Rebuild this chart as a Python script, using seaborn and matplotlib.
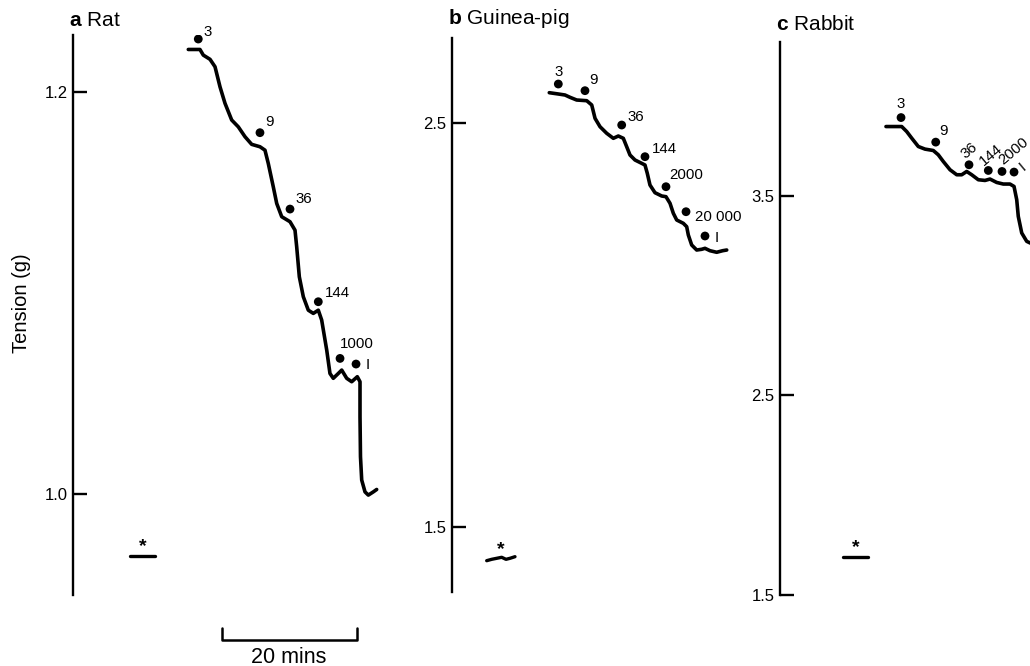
import numpy as np
import pandas as pd
import seaborn as sns
import matplotlib.pyplot as plt

# traces: time (min), tension (g)
rat_t = [17.08, 18.81, 19.30, 20.30, 21.04, 21.78, 22.52, 23.51, 24.49, 25.48, 26.47, 27.70, 28.44, 28.93,
         29.67, 30.18, 30.92, 32.15, 32.89, 33.14, 33.53, 34.12, 34.86, 35.60, 36.34, 36.84, 37.59, 38.07,
         38.56, 39.30, 39.81, 40.55, 41.29, 42.12, 42.52, 42.52, 42.59, 42.77, 43.26, 43.75, 44.49, 44.99]
rat_g = [1.2212, 1.2212, 1.2184, 1.2163, 1.2126, 1.2026, 1.1944, 1.1861, 1.1827, 1.1778, 1.1740, 1.1728,
         1.1711, 1.1645, 1.1529, 1.1446, 1.1380, 1.1355, 1.1313, 1.1230, 1.1081, 1.0982, 1.0915, 1.0899,
         1.0915, 1.0866, 1.0716, 1.0600, 1.0576, 1.0600, 1.0617, 1.0576, 1.0559, 1.0584, 1.0559, 1.0385,
         1.0186, 1.0070, 1.0011, 0.9995, 1.0011, 1.0023]

gp_t = [14.41, 15.75, 16.74, 17.48, 18.47, 19.96, 20.70, 21.19, 21.93, 22.92, 23.90, 24.64, 25.38, 25.88,
        26.37, 27.11, 28.10, 28.59, 28.93, 29.33, 30.07, 31.07, 31.70, 32.30, 32.79, 33.29, 34.27, 34.77,
        35.01, 35.51, 36.25, 36.99, 37.48, 38.22, 39.21, 40.10, 40.70]
gp_g = [2.5750, 2.5718, 2.5693, 2.5636, 2.5569, 2.5552, 2.5446, 2.5116, 2.4908, 2.4745, 2.4621, 2.4678,
        2.4621, 2.4413, 2.4208, 2.4084, 2.4002, 2.3960, 2.3755, 2.3465, 2.3275, 2.3193, 2.3176, 2.3012,
        2.2765, 2.2599, 2.2517, 2.2433, 2.2228, 2.1980, 2.1856, 2.1874, 2.1898, 2.1839, 2.1800, 2.1839,
        2.1856]

rb_t = [15.70, 18.03, 18.77, 19.51, 20.49, 21.48, 22.71, 23.45, 24.19, 25.19, 26.18, 26.92, 27.66, 28.40,
        29.38, 30.37, 31.11, 32.10, 33.08, 34.07, 34.67, 35.07, 35.30, 35.81, 36.55, 37.04, 38.50]
rb_g = [3.8465, 3.8465, 3.8215, 3.7885, 3.7465, 3.7335, 3.7265, 3.7050, 3.6715, 3.6300, 3.6050, 3.6050,
        3.6215, 3.6050, 3.5800, 3.5765, 3.5835, 3.5665, 3.5585, 3.5585, 3.5465, 3.4800, 3.3965, 3.3135,
        3.2715, 3.2635, 3.2500]

# points where each concentration was added
rat_dot_t = [18.56, 27.70, 32.15, 36.34, 39.56, 41.93]
rat_dot_g = [1.2264, 1.1798, 1.1418, 1.0957, 1.0675, 1.0647]
rat_labels = ['3', '9', '36', '144', '1000', 'I']

gp_dot_t = [15.75, 19.70, 25.14, 28.59, 31.70, 34.67, 37.48]
gp_dot_g = [2.5965, 2.5800, 2.4950, 2.4166, 2.3423, 2.2804, 2.2203]
gp_labels = ['3', '9', '36', '144', '2000', '20 000', 'I']

rb_dot_t = [17.93, 23.07, 28.00, 30.86, 32.89, 34.67]
rb_dot_g = [3.8915, 3.7685, 3.6550, 3.6265, 3.6215, 3.6185]
rb_labels = ['3', '9', '36', '144', '2000', 'I']

# baselines marked with *
rat_base_t = [8.44, 12.15]
rat_base_g = [0.9692, 0.9692]
gp_base_t = [5.14, 5.88, 6.62, 7.36, 8.00, 8.59, 9.33]
gp_base_g = [1.4166, 1.4200, 1.4225, 1.4250, 1.4200, 1.4225, 1.4265]
rb_base_t = [9.33, 13.04]
rb_base_g = [1.69, 1.69]

rat_ticks = [1.0, 1.2]
gp_ticks = [1.5, 2.5]
rb_ticks = [1.5, 2.5, 3.5]

scale_start = 22.0
scale_mins = 20

# label placement (pixel offsets, alignment, rotation)
rat_style = [(5, 7, 'left', 0), (5, 11, 'left', 0), (5, 10, 'left', 0), (7, 9, 'left', 0),
             (0, 14, 'left', 0), (10, -1, 'left', 0)]
gp_style = [(0, 12, 'center', 0), (4, 11, 'left', 0), (6, 8, 'left', 0), (7, 8, 'left', 0),
            (3, 12, 'left', 0), (9, -5, 'left', 0), (10, -2, 'left', 0)]
rb_style = [(0, 14, 'center', 0), (8, 11, 'center', 0), (0, 14, 'center', 40), (3, 16, 'center', 40),
            (12, 20, 'center', 40), (9, 5, 'center', 40)]

sns.set_theme(style='white')
plt.rcParams['font.family'] = ['Liberation Sans', 'DejaVu Sans']
plt.rcParams['mathtext.fontset'] = 'custom'
plt.rcParams['mathtext.rm'] = 'Liberation Sans'
plt.rcParams['mathtext.bf'] = 'Liberation Sans:bold'
plt.rcParams['text.color'] = 'black'
plt.rcParams['axes.labelcolor'] = 'black'

W, H = 1030, 666
PX_PER_MIN = 6.75
fig = plt.figure(figsize=(W / 100, H / 100), dpi=100)


def make_axes(left, right, top, bottom, ylim):
    ax = fig.add_axes([left / W, 1 - bottom / H, (right - left) / W, (bottom - top) / H])
    ax.set_xlim(0, (right - left) / PX_PER_MIN)
    ax.set_ylim(*ylim)
    return ax


def draw_panel(ax, t, g, dot_t, dot_g, labels, style, base_t, base_g, ticks, title, title_pad):
    trace = pd.DataFrame({'time': t, 'tension': g})
    sns.lineplot(data=trace, x='time', y='tension', ax=ax, sort=False, estimator=None,
                 color='black', linewidth=2.6, solid_capstyle='round', solid_joinstyle='round')
    base = pd.DataFrame({'time': base_t, 'tension': base_g})
    sns.lineplot(data=base, x='time', y='tension', ax=ax, sort=False, estimator=None,
                 color='black', linewidth=2.4, solid_capstyle='round')
    dots = pd.DataFrame({'time': dot_t, 'tension': dot_g})
    sns.scatterplot(data=dots, x='time', y='tension', ax=ax, color='black', s=40,
                    edgecolor='none', zorder=3)
    for x, y, lab, (dx, dy, ha, rot) in zip(dot_t, dot_g, labels, style):
        ax.annotate(lab, (x, y), xytext=(dx, dy), textcoords='offset pixels',
                    ha=ha, va='center', rotation=rot, fontsize=10.8, color='black',
                    annotation_clip=False)
    ax.annotate('*', (np.mean(base_t), np.mean(base_g)), xytext=(0, 9), textcoords='offset pixels',
                ha='center', va='center', fontsize=14, fontweight='bold', color='black')

    for s in ['top', 'right', 'bottom']:
        ax.spines[s].set_visible(False)
    ax.spines['left'].set_color('black')
    ax.spines['left'].set_linewidth(1.7)
    ax.set_xticks([])
    ax.set_yticks(ticks)
    ax.set_yticklabels([f'{v:.1f}' for v in ticks])
    ax.tick_params(axis='y', direction='in', length=10, width=1.7, color='black',
                   labelsize=12, pad=4, left=True, labelcolor='black')
    ax.set_xlabel('')
    ax.set_ylabel('')
    ax.annotate(title, (0, 1), xycoords='axes fraction', xytext=(-4, title_pad),
                textcoords='offset pixels', ha='left', va='center', fontsize=15)


ax_a = make_axes(73, 420, 35, 595, (0.9498, 1.2284))
ax_b = make_axes(452, 745, 38, 592, (1.3391, 2.7104))
ax_c = make_axes(780, 1030, 42, 595, (1.5, 4.27))

draw_panel(ax_a, rat_t, rat_g, rat_dot_t, rat_dot_g, rat_labels, rat_style,
           rat_base_t, rat_base_g, rat_ticks, r'$\mathbf{a}$ Rat', 15)
draw_panel(ax_b, gp_t, gp_g, gp_dot_t, gp_dot_g, gp_labels, gp_style,
           gp_base_t, gp_base_g, gp_ticks, r'$\mathbf{b}$ Guinea-pig', 20)
draw_panel(ax_c, rb_t, rb_g, rb_dot_t, rb_dot_g, rb_labels, rb_style,
           rb_base_t, rb_base_g, rb_ticks, r'$\mathbf{c}$ Rabbit', 17)

# 20 min scale bar under panel a
y_bar, y_end = 0.9274, 0.9333
ax_a.plot([scale_start, scale_start, scale_start + scale_mins, scale_start + scale_mins],
          [y_end, y_bar, y_bar, y_end], color='black', linewidth=1.8, clip_on=False)
ax_a.text(scale_start + scale_mins / 2, 0.9189, f'{scale_mins} mins', ha='center', va='center',
          fontsize=15.5, clip_on=False)

fig.text(22 / W, 1 - 303 / H, 'Tension (g)', rotation=90, ha='center', va='center', fontsize=14.5)

plt.savefig('out.png', dpi=100)
